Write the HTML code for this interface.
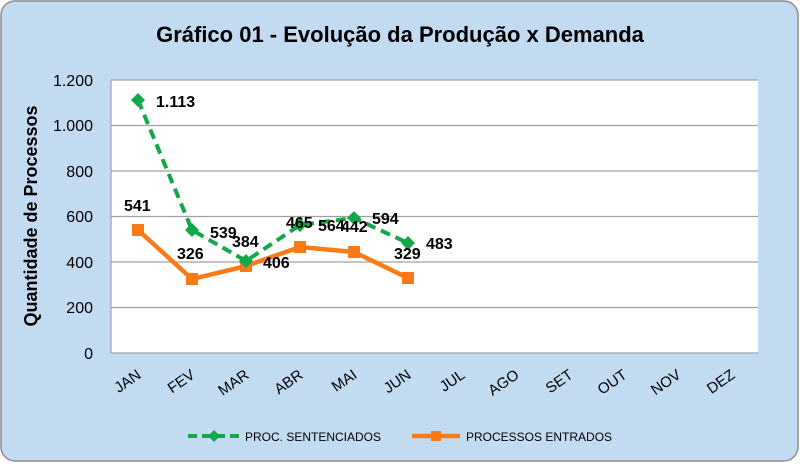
<!DOCTYPE html>
<html><head><meta charset="utf-8"><style>
html,body{margin:0;padding:0;background:#fff;}
</style></head><body>
<svg width="800" height="463" xmlns="http://www.w3.org/2000/svg" font-family="Liberation Sans, sans-serif">
<rect x="1" y="1" width="797" height="460" rx="14" fill="#C2DBF1" stroke="#8c8c8c" stroke-width="1.5"/>
<text x="400" y="42" text-anchor="middle" font-size="22" font-weight="bold">Gráfico 01 - Evolução da Produção x Demanda</text>
<rect x="111" y="80" width="647" height="273" fill="#fff"/>
<g stroke="#a0a0a0" stroke-width="1.2">
<line x1="111" y1="80" x2="758" y2="80"/><line x1="111" y1="125.5" x2="758" y2="125.5"/>
<line x1="111" y1="171" x2="758" y2="171"/><line x1="111" y1="216.5" x2="758" y2="216.5"/>
<line x1="111" y1="262" x2="758" y2="262"/><line x1="111" y1="307.5" x2="758" y2="307.5"/>
<line x1="111" y1="353" x2="758" y2="353"/><line x1="111" y1="80" x2="111" y2="353"/>
</g>
<g font-size="16" text-anchor="end">
<text x="93" y="86">1.200</text><text x="93" y="131">1.000</text><text x="93" y="177">800</text>
<text x="93" y="222">600</text><text x="93" y="268">400</text><text x="93" y="313">200</text><text x="93" y="359">0</text>
</g>
<text transform="translate(37,216) rotate(-90)" text-anchor="middle" font-size="18" font-weight="bold">Quantidade de Processos</text>
<g font-size="15" text-anchor="end">
<text transform="translate(142,377) rotate(-35)">JAN</text>
<text transform="translate(196,377) rotate(-35)">FEV</text>
<text transform="translate(250,377) rotate(-35)">MAR</text>
<text transform="translate(304,377) rotate(-35)">ABR</text>
<text transform="translate(358,377) rotate(-35)">MAI</text>
<text transform="translate(412,377) rotate(-35)">JUN</text>
<text transform="translate(466,377) rotate(-35)">JUL</text>
<text transform="translate(520,377) rotate(-35)">AGO</text>
<text transform="translate(574,377) rotate(-35)">SET</text>
<text transform="translate(628,377) rotate(-35)">OUT</text>
<text transform="translate(682,377) rotate(-35)">NOV</text>
<text transform="translate(736,377) rotate(-35)">DEZ</text>
</g>
<polyline points="138,230 192,279 246,266 300,247 354,252 408,278" fill="none" stroke="#F97B17" stroke-width="4.5" stroke-linejoin="round"/>
<g fill="#F97B17">
<rect x="132" y="224" width="12" height="12"/><rect x="186" y="273" width="12" height="12"/><rect x="240" y="260" width="12" height="12"/>
<rect x="294" y="241" width="12" height="12"/><rect x="348" y="246" width="12" height="12"/><rect x="402" y="272" width="12" height="12"/>
</g>
<polyline points="138,100 192,230 246,261 300,225 354,218 408,243" fill="none" stroke="#12A84A" stroke-width="4" stroke-dasharray="10,6"/>
<g fill="#12A84A">
<path d="M138,93 l7,7 -7,7 -7,-7z"/><path d="M192,223 l7,7 -7,7 -7,-7z"/><path d="M246,254 l7,7 -7,7 -7,-7z"/>
<path d="M300,218 l7,7 -7,7 -7,-7z"/><path d="M354,211 l7,7 -7,7 -7,-7z"/><path d="M408,236 l7,7 -7,7 -7,-7z"/>
</g>
<g font-size="16" font-weight="bold">
<text x="156" y="107">1.113</text><text x="124" y="211">541</text><text x="177" y="259">326</text>
<text x="210" y="238">539</text><text x="232" y="247">384</text><text x="263" y="268">406</text>
<text x="286" y="228">465</text><text x="318" y="231">564</text><text x="341" y="232">442</text>
<text x="372" y="224">594</text><text x="394" y="259">329</text><text x="426" y="249">483</text>
</g>
<line x1="188" y1="436" x2="240" y2="436" stroke="#12A84A" stroke-width="4" stroke-dasharray="9,5"/>
<path d="M214,430 l6,6 -6,6 -6,-6z" fill="#12A84A"/>
<text x="245" y="441" font-size="12">PROC. SENTENCIADOS</text>
<line x1="412" y1="436" x2="460" y2="436" stroke="#F97B17" stroke-width="4.5"/>
<rect x="431" y="431" width="10" height="10" fill="#F97B17"/>
<text x="466" y="441" font-size="12">PROCESSOS ENTRADOS</text>
</svg>
</body></html>
